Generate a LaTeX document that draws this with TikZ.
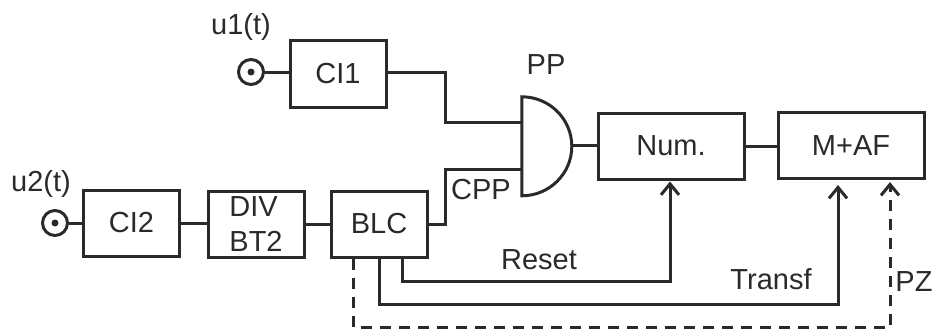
\documentclass[tikz,border=0pt]{standalone}
\usepackage{fontspec}
\setmainfont{Liberation Sans}
\usetikzlibrary{calc}
\usetikzlibrary{arrows, arrows.meta}
\definecolor{BLACK}{HTML}{2B2A28}
\tikzset{
    wire/.style={BLACK, line width=3pt},
    sig/.style={BLACK, line width=3pt, -{Straight Barb[length=11pt,width=18pt,line width=3pt]}},
    dsig/.style={sig, dash pattern=on 11pt off 8pt},
    blockbox/.style={draw=BLACK, line width=3pt, inner sep=0pt, text=BLACK, minimum height=66pt},
    smallbox/.style={blockbox, minimum width=96pt},
    widebox/.style={blockbox, minimum width=146pt},
    jack/.style={circle, draw=BLACK, line width=3pt, minimum size=25pt, inner sep=0pt},
    jackdot/.style={circle, fill=BLACK, minimum size=7pt, inner sep=0pt},
    lbl/.style={BLACK, inner sep=0pt},
}
\begin{document}
\begin{tikzpicture}[x=1pt, y=-1pt, font=\fontsize{29}{35}\selectfont]
    \useasboundingbox (0,0) rectangle (933,329);
    % blocks
    \node[smallbox] (CIone) at (338,74) {CI1};
    \node[smallbox] (CItwo) at (131.5,223) {CI2};
    \node[smallbox, align=left] (DIV) at (256,224) {DIV\\BT2};
    \node[smallbox] (BLC) at (379,224) {BLC};
    \node[widebox] (NUM) at (671,146) {Num.};
    \node[widebox] (MAF) at (851,145.5) {M+AF};
    % inputs
    \node[jack] (uone) at (251,72) {};
    \node[jackdot] (uonedot) at (uone.center) {};
    \node[jack] (utwo) at (55,223) {};
    \node[jackdot] (utwodot) at (utwo.center) {};
    % gate
    \node[minimum width=50pt, minimum height=99pt, inner sep=0pt] (PPgate) at (547,146.5) {};
    \draw[wire] (PPgate.north west) arc (-90:90:50 and 49.5) -- cycle;
    \coordinate (gateA) at ($(PPgate.west)+(0,-24.5)$);
    \coordinate (gateB) at ($(PPgate.west)+(0,22.5)$);
    \coordinate (gateOut) at ($(PPgate.east)+(0,-1.5)$);
    % tap points under BLC
    \coordinate (tapReset) at ($(BLC.south)+(23,0)$);
    \coordinate (tapPZ) at ($(BLC.south)+(-26,0)$);
    \coordinate (headNum) at ($(NUM.south)+(-1,1)$);
    \coordinate (headTransf) at ($(MAF.south)+(-13,5)$);
    \coordinate (headPZ) at ($(MAF.south)+(39,2)$);
    % connectors
    \draw[wire] (uone) -- (CIone.west |- uone);
    \draw[wire] (CIone.east |- uone) -- (445,72) -- (445,122) -- (gateA);
    \draw[wire] (utwo) -- (CItwo.west |- utwo);
    \draw[wire] (CItwo.east |- utwo) -- (DIV.west |- utwo);
    \draw[wire] (DIV.east) -- (BLC.west);
    \draw[wire] (BLC.east) -- (445,224) -- (445,169) -- (gateB);
    \draw[wire] (gateOut) -- (NUM.west |- gateOut);
    \draw[wire] (NUM.east) -- (MAF.west |- NUM.east);
    \draw[sig] (tapReset) |- (headNum |- 0,281) -- (headNum);
    \draw[sig] (BLC.south) |- (headTransf |- 0,304) -- (headTransf);
    \draw[dsig] (tapPZ) |- (headPZ |- 0,327) -- (headPZ);
    % labels
    \node[lbl] (lblu1) at (241,27) {u1(t)};
    \node[lbl] (lblu2) at (41,184) {u2(t)};
    \node[lbl] (lblPP) at (546,65) {PP};
    \node[lbl] (lblCPP) at (481,190) {CPP};
    \node[lbl] (lblReset) at (539,260) {Reset};
    \node[lbl] (lblTransf) at (771,279) {Transf};
    \node[lbl] (lblPZ) at (914,282) {PZ};
\end{tikzpicture}
\end{document}
